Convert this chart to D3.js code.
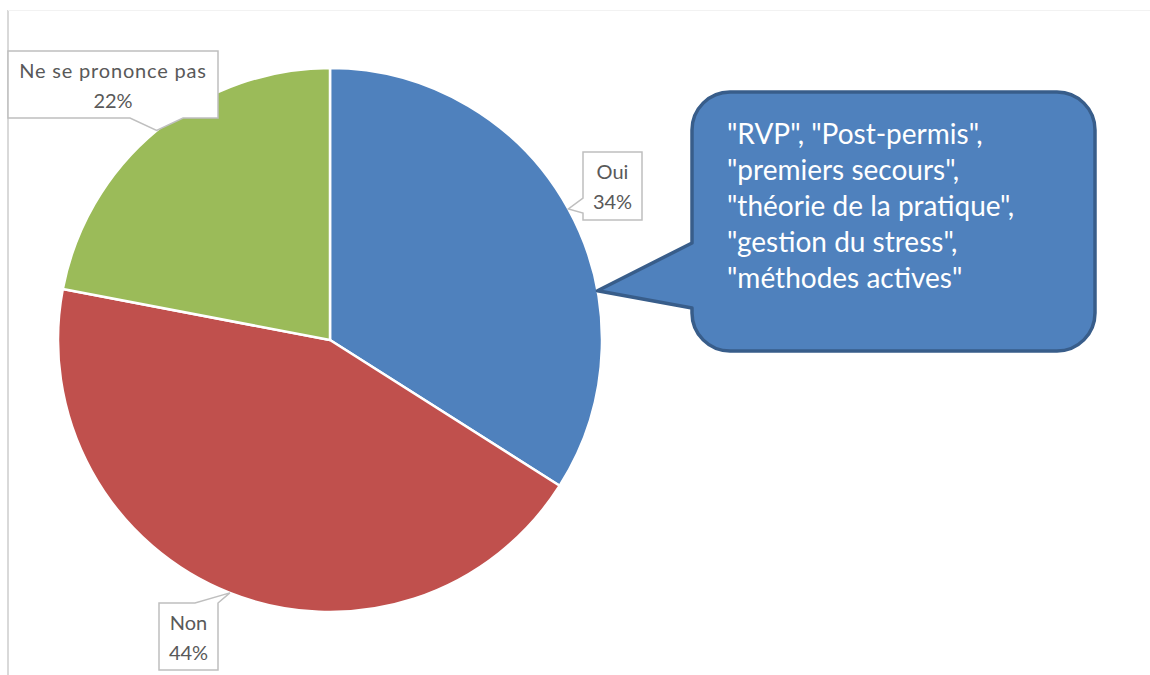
<!DOCTYPE html>
<html>
<head>
<meta charset="utf-8">
<script src="https://cdn.jsdelivr.net/npm/d3@7"></script>
<style>
  html, body { margin: 0; padding: 0; background: #fff; }
  svg { display: block; }
</style>
</head>
<body>
<svg id="chart"></svg>
<script>
// pie chart data
var categories = ["Oui", "Non", "Ne se prononce pas"];
var values = [34, 44, 22];
var colors = ["#4f81bd", "#c0504d", "#9bbb59"];

// callout text (annotation on the "Oui" slice)
var noteLines = [
  "\"RVP\", \"Post-permis\",",
  "\"premiers secours\",",
  "\"théorie de la pratique\",",
  "\"gestion du stress\",",
  "\"méthodes actives\""
];

var width = 1150, height = 675;
var cx = 330, cy = 340, radius = 272;
var labelFont = "Lato, 'DejaVu Sans', sans-serif";

// label boxes: x, y, w, h and which side the pointer leaves from
var labelBoxes = [
  { x: 583, y: 152, w: 59, h: 68, side: "left",   p0: 198, p1: 213, ls: 0 },
  { x: 159, y: 603, w: 59, h: 67, side: "top",    p0: 195, p1: 218, ls: 0 },
  { x: 8,   y: 51,  w: 210, h: 67, side: "bottom", p0: 130, p1: 183, ls: 0.8 }
];

var svg = d3.select("#chart").attr("width", width).attr("height", height);

// chart area border (only left + faint top visible in the crop)
svg.append("line").attr("x1", 8).attr("y1", 10).attr("x2", 8).attr("y2", height)
  .attr("stroke", "#d9d9d9").attr("stroke-width", 2);
svg.append("line").attr("x1", 8).attr("y1", 10.5).attr("x2", width).attr("y2", 10.5)
  .attr("stroke", "#f2f2f2").attr("stroke-width", 1);

var pie = d3.pie().sort(null).value(function(d) { return d; });
var arcs = pie(values);
var arc = d3.arc().innerRadius(0).outerRadius(radius);

var g = svg.append("g").attr("transform", "translate(" + cx + "," + cy + ")");
g.selectAll("path").data(arcs).enter().append("path")
  .attr("d", arc)
  .attr("fill", function(d, i) { return colors[i]; })
  .attr("stroke", "#fff").attr("stroke-width", 2.5)
  .attr("stroke-linejoin", "round");

function edgePoint(angle, r) {
  return [cx + r * Math.sin(angle), cy - r * Math.cos(angle)];
}

// data labels with pointer boxes
arcs.forEach(function(a, i) {
  var b = labelBoxes[i];
  var mid = (a.startAngle + a.endAngle) / 2;
  var tip = edgePoint(mid, radius);
  var x0 = b.x, y0 = b.y, x1 = b.x + b.w, y1 = b.y + b.h;
  var pts;
  if (b.side == "left")
    pts = [[x0, y0], [x1, y0], [x1, y1], [x0, y1], [x0, b.p1], tip, [x0, b.p0]];
  else if (b.side == "top")
    pts = [[x0, y0], [b.p0, y0], tip, [b.p1, y0], [x1, y0], [x1, y1], [x0, y1]];
  else
    pts = [[x0, y0], [x1, y0], [x1, y1], [b.p1, y1], tip, [b.p0, y1], [x0, y1]];

  svg.append("path")
    .attr("d", "M" + pts.map(function(p) { return p[0] + "," + p[1]; }).join("L") + "Z")
    .attr("fill", "#fff").attr("stroke", "#bfbfbf").attr("stroke-width", 1.5);

  var pct = Math.round(a.value / d3.sum(values) * 100) + "%";
  var t = svg.append("text")
    .attr("text-anchor", "middle")
    .attr("font-family", labelFont).attr("font-size", 20)
    .attr("fill", "#595959");
  t.append("tspan").attr("x", (x0 + x1) / 2).attr("y", y0 + 27)
    .attr("letter-spacing", b.ls).text(categories[i]);
  t.append("tspan").attr("x", (x0 + x1) / 2).attr("y", y0 + 57).text(pct);
});

// speech bubble annotation, pointer lands on the "Oui" slice
var bx0 = 692, by0 = 92, bx1 = 1095, by1 = 351, rr = 38;
var noteTip = edgePoint(arcs[0].startAngle + 0.65 * (arcs[0].endAngle - arcs[0].startAngle), radius);
var bubble = d3.path();
bubble.moveTo(bx0 + rr, by0);
bubble.lineTo(bx1 - rr, by0);
bubble.arcTo(bx1, by0, bx1, by0 + rr, rr);
bubble.lineTo(bx1, by1 - rr);
bubble.arcTo(bx1, by1, bx1 - rr, by1, rr);
bubble.lineTo(bx0 + rr, by1);
bubble.arcTo(bx0, by1, bx0, by1 - rr, rr);
bubble.lineTo(bx0, 308);
bubble.lineTo(noteTip[0], noteTip[1]);
bubble.lineTo(bx0, 243);
bubble.lineTo(bx0, by0 + rr);
bubble.arcTo(bx0, by0, bx0 + rr, by0, rr);
bubble.closePath();

svg.append("path").attr("d", bubble.toString())
  .attr("fill", "#4f81bd").attr("stroke", "#385d8a").attr("stroke-width", 3.5)
  .attr("stroke-linejoin", "round");

var note = svg.append("text")
  .attr("font-family", labelFont).attr("font-size", 28).attr("fill", "#fff");
note.selectAll("tspan").data(noteLines).enter().append("tspan")
  .attr("x", 727)
  .attr("y", function(d, i) { return 144 + i * 36; })
  .text(function(d) { return d; });
</script>
</body>
</html>
